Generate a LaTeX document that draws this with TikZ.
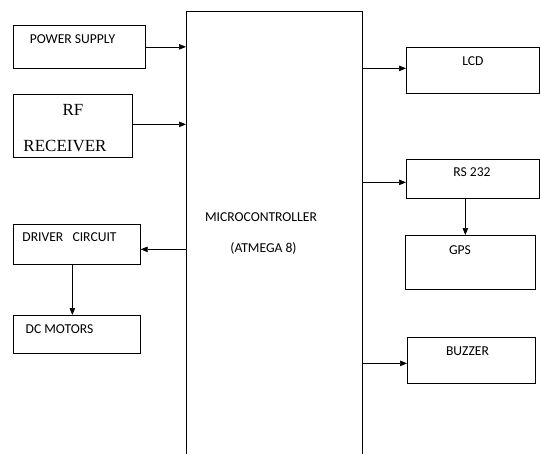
\documentclass[tikz,border=0pt]{standalone}
\usepackage{fontspec}
\setmainfont{Carlito}
\newfontfamily\rmtimes{Liberation Serif}
\usetikzlibrary{arrows.meta}

\begin{document}
\begin{tikzpicture}[x=1pt,y=-1pt,
  every node/.style={font=\fontsize{13.6}{15}\selectfont, inner sep=0pt},
  blk/.style={draw, line width=0.7pt, anchor=north west},
  arr/.style={-{Triangle[length=7pt,width=5.5pt]}, line width=0.7pt}]
  \useasboundingbox (0,0) rectangle (540,453);
  \clip (0,0) rectangle (540,453);
  % blocks
  \node[blk, minimum width=176, minimum height=470] (mcu) at (186,11) {};
  \node[blk, minimum width=132, minimum height=43] (ps) at (13,25) {};
  \node[blk, minimum width=119, minimum height=63] (rf) at (13,94) {};
  \node[blk, minimum width=127, minimum height=40] (drv) at (13,224) {};
  \node[blk, minimum width=127, minimum height=38] (dcm) at (13,315) {};
  \node[blk, minimum width=133, minimum height=46] (lcd) at (406,47) {};
  \node[blk, minimum width=133, minimum height=39] (rs) at (406,159) {};
  \node[blk, minimum width=130, minimum height=54] (gps) at (405,235) {};
  \node[blk, minimum width=128, minimum height=46] (buz) at (407,337) {};
  % texts
  \node (tps) at (72.5,39) {POWER SUPPLY};
  \node[font=\rmtimes\fontsize{17}{19}\selectfont] (trf) at (73,110) {RF};
  \node[font=\rmtimes\fontsize{17}{19}\selectfont] (trcv) at (65,146) {RECEIVER};
  \node (tdrv) at (69.5,237) {DRIVER\ \ \ CIRCUIT};
  \node (tdcm) at (59.5,329) {DC MOTORS};
  \node (tlcd) at (473,61) {LCD};
  \node (trs) at (472,172) {RS 232};
  \node (tgps) at (460,250) {GPS};
  \node (tbuz) at (467.5,351) {BUZZER};
  \node (tmcu) at (261,217) {MICROCONTROLLER};
  \node (tatm) at (263.5,248) {(ATMEGA 8)};
  % connections
  \draw[arr] (ps.east) -- (ps.east -| mcu.west);
  \draw[arr] ([yshift=1.5pt]rf.east) -- ([yshift=1.5pt]rf.east -| mcu.west);
  \draw[arr] ([yshift=-5pt]drv.east -| mcu.west) -- ([yshift=-5pt]drv.east);
  \draw[arr] ([xshift=-4.5pt]drv.south) -- ([xshift=-4.5pt]drv.south |- dcm.north);
  \draw[arr] ([yshift=2pt]lcd.west -| mcu.east) -- ([yshift=2pt]lcd.west);
  \draw[arr] ([yshift=-3.5pt]rs.west -| mcu.east) -- ([yshift=-3.5pt]rs.west);
  \draw[arr] ([xshift=-7.5pt]rs.south) -- ([xshift=-7.5pt]rs.south |- gps.north);
  \draw[arr] ([yshift=-3pt]buz.west -| mcu.east) -- ([yshift=-3pt]buz.west);
\end{tikzpicture}
\end{document}
